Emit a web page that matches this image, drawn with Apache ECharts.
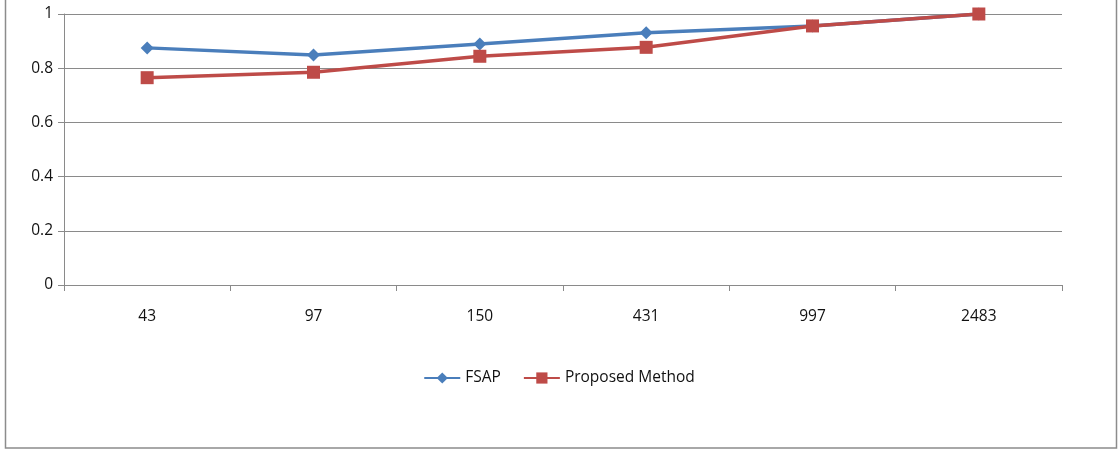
<!DOCTYPE html>
<html>
<head>
<meta charset="utf-8">
<script src="https://cdn.jsdelivr.net/npm/echarts@6/dist/echarts.min.js"></script>
<style>
  html, body { margin: 0; padding: 0; background: #fff; }
  #chart { width: 1118px; height: 449px; }
</style>
</head>
<body>
<div id="chart"></div>
<script>
// Category labels along the x axis
const categories = ['43', '97', '150', '431', '997', '2483'];
// Series values
const fsap = [0.875, 0.849, 0.889, 0.931, 0.956, 1.0];
const proposed = [0.765, 0.785, 0.844, 0.877, 0.956, 1.0];
// Value axis
const yMin = 0, yMax = 1, yStep = 0.2;

const chart = echarts.init(document.getElementById('chart'), null, { renderer: 'canvas' });
const font = '"Open Sans", "Liberation Sans", sans-serif';
const gridColor = '#8a8a8a';
const textColor = '#111';

chart.setOption({
  animation: false,
  backgroundColor: '#ffffff',
  graphic: [{
    type: 'rect',
    shape: { x: 5.5, y: -10, width: 1111, height: 458 },
    style: { fill: 'none', stroke: '#8c8c8c', lineWidth: 1.5 },
    silent: true
  }],
  grid: { left: 64, right: 56, top: 14, bottom: 164, containLabel: false },
  legend: {
    top: 365,
    left: 'center',
    itemWidth: 36,
    itemHeight: 14,
    itemGap: 22,
    textStyle: { fontFamily: font, fontSize: 15.5, color: textColor },
    data: [
      { name: 'FSAP', itemStyle: { color: '#4a7ebb' } },
      { name: 'Proposed Method', itemStyle: { color: '#be4b48' } }
    ]
  },
  xAxis: {
    type: 'category',
    data: categories,
    boundaryGap: true,
    axisLine: { lineStyle: { color: gridColor, width: 1 } },
    axisTick: { show: true, length: 6, alignWithLabel: false, lineStyle: { color: gridColor } },
    axisLabel: { fontFamily: font, fontSize: 15.5, color: textColor, margin: 24 }
  },
  yAxis: {
    type: 'value',
    min: yMin, max: yMax, interval: yStep,
    axisLine: { show: true, lineStyle: { color: gridColor, width: 1 } },
    axisTick: { show: true, length: 6, lineStyle: { color: gridColor } },
    splitLine: { show: true, lineStyle: { color: gridColor, width: 1 } },
    axisLabel: {
      fontFamily: font, fontSize: 15.5, color: textColor, margin: 11,
      formatter: v => String(Math.round(v * 10) / 10)
    }
  },
  series: [
    {
      name: 'FSAP',
      type: 'line',
      data: fsap,
      symbol: 'diamond',
      symbolSize: 13,
      lineStyle: { color: '#4a7ebb', width: 3.5 },
      itemStyle: { color: '#4a7ebb' },
      z: 2
    },
    {
      name: 'Proposed Method',
      type: 'line',
      data: proposed,
      symbol: 'rect',
      symbolSize: 13,
      lineStyle: { color: '#be4b48', width: 3.5 },
      itemStyle: { color: '#be4b48' },
      z: 3
    }
  ]
});
</script>
</body>
</html>
